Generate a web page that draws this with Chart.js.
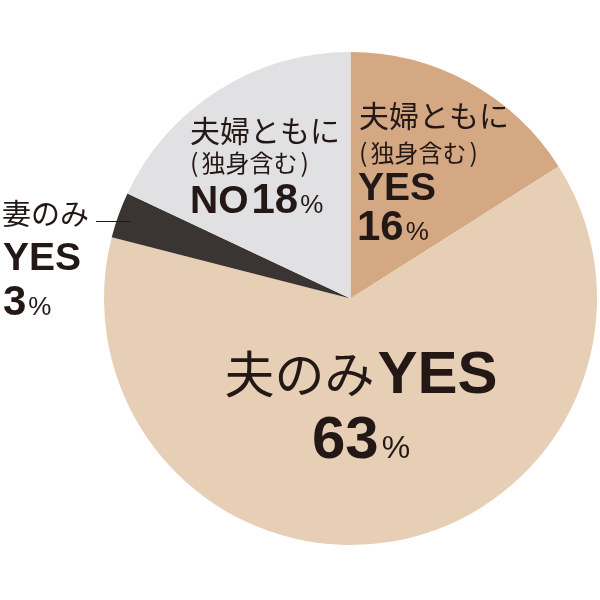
<!DOCTYPE html>
<html>
<head>
<meta charset="utf-8">
<script src="https://cdn.jsdelivr.net/npm/chart.js@4"></script>
<style>
html,body{margin:0;padding:0;background:#fff;}
#wrap{width:600px;height:600px;position:relative;}
</style>
</head>
<body>
<div id="wrap"><canvas id="c" width="600" height="600"></canvas></div>
<script>
const categories = ['夫婦ともにYES', '夫のみYES', '妻のみYES', '夫婦ともにNO'];
const values = [16, 63, 3, 18];
const sliceColors = ['#d4a883', '#e6cfb5', '#3a3433', '#e1e1e3'];

const INK = '#231815';
const JP = '"Noto Sans CJK JP", "Noto Sans", sans-serif';
const LAT = '"Liberation Sans", Arial, sans-serif';

function runs(ctx, x, y, parts, align) {
  let total = 0;
  parts.forEach(p => { ctx.font = p.font; total += ctx.measureText(p.t).width + (p.gap || 0); });
  let cx = align === 'center' ? x - total / 2 : x;
  parts.forEach(p => {
    ctx.font = p.font;
    ctx.fillText(p.t, cx, y);
    cx += ctx.measureText(p.t).width + (p.gap || 0);
  });
}

function paren(ctx, x, y) {
  runs(ctx, x, y, [
    {t: '(', font: '25px ' + JP, gap: 3},
    {t: '独身含む', font: '24px ' + JP, gap: 3},
    {t: ')', font: '25px ' + JP}
  ]);
}

const labelPlugin = {
  id: 'labels',
  afterDraw(chart) {
    const ctx = chart.ctx;
    ctx.save();
    ctx.fillStyle = INK;
    ctx.textBaseline = 'alphabetic';
    ctx.textAlign = 'left';
    // slice 0: 夫婦ともに YES
    runs(ctx, 359, 127, [{t: '夫婦ともに', font: '30px ' + JP}]);
    paren(ctx, 359, 162);
    runs(ctx, 358, 200, [{t: 'YES', font: 'bold 39px ' + LAT}]);
    runs(ctx, 357, 240, [{t: String(values[0]), font: 'bold 42px ' + LAT, gap: 2}, {t: '%', font: '26px ' + LAT}]);
    // slice 1: 夫のみ YES
    runs(ctx, 361, 393, [{t: '夫のみ', font: '50px ' + JP, gap: 3}, {t: 'YES', font: 'bold 60px ' + LAT}], 'center');
    runs(ctx, 361, 458, [{t: String(values[1]), font: 'bold 60px ' + LAT, gap: 3}, {t: '%', font: '32px ' + LAT}], 'center');
    // slice 3: NO
    runs(ctx, 190, 142, [{t: '夫婦ともに', font: '30px ' + JP}]);
    paren(ctx, 190, 172);
    runs(ctx, 190, 213, [{t: 'NO', font: 'bold 39px ' + LAT, gap: 3}, {t: String(values[3]), font: 'bold 42px ' + LAT, gap: 2}, {t: '%', font: '26px ' + LAT}]);
    // slice 2: 妻のみ YES
    runs(ctx, 2, 225, [{t: '妻のみ', font: '29px ' + JP}]);
    ctx.strokeStyle = INK;
    ctx.lineWidth = 1;
    ctx.beginPath();
    ctx.moveTo(96, 221.5);
    ctx.lineTo(131, 221.5);
    ctx.stroke();
    runs(ctx, 3, 270, [{t: 'YES', font: 'bold 39px ' + LAT}]);
    runs(ctx, 3, 315, [{t: String(values[2]), font: 'bold 42px ' + LAT, gap: 2}, {t: '%', font: '26px ' + LAT}]);
    ctx.restore();
  }
};

new Chart(document.getElementById('c'), {
  type: 'pie',
  data: {
    labels: categories,
    datasets: [{
      data: values,
      backgroundColor: sliceColors,
      borderWidth: 0
    }]
  },
  options: {
    responsive: false,
    animation: false,
    layout: {padding: {left: 104, right: 3, top: 52, bottom: 55}},
    plugins: {legend: {display: false}, tooltip: {enabled: false}}
  },
  plugins: [labelPlugin]
});
</script>
</body>
</html>
